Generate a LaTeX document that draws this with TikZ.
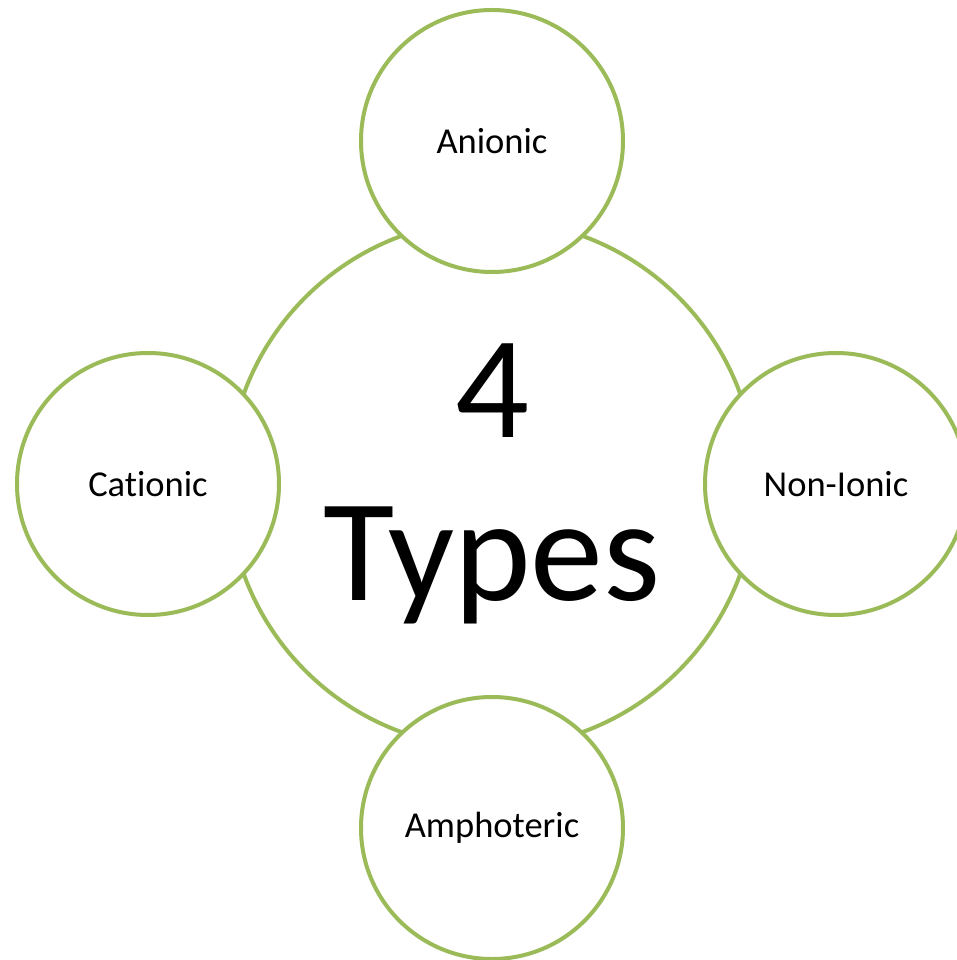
\documentclass[tikz,border=0pt]{standalone}
\usepackage{fontspec}
\setmainfont{Carlito}[Ligatures=CommonOff]
\usetikzlibrary{positioning}
\definecolor{leafgreen}{HTML}{9BBB59}
\begin{document}
\begin{tikzpicture}[
	   ring/.style={circle, draw=leafgreen, line width=4pt, fill=white, inner sep=0pt},
	   kind/.style={ring, minimum size=262pt, font=\fontsize{36.5}{42}\selectfont}]
	  \useasboundingbox (-492pt,-476pt) rectangle (465pt,484pt);
	  \node[ring, minimum size=528pt, align=center, font=\fontsize{146}{163}\selectfont] (types) {4\\Types};
	  \node[kind, above=-56pt of types] (anionic) {Anionic};
	  \node[kind, left=-55pt of types] (cationic) {Cationic};
	  \node[kind, right=-55pt of types] (nonionic) {Non-Ionic};
	  \node[kind, below=-55pt of types] (amphoteric) {Amphoteric};
	\end{tikzpicture}
\end{document}
